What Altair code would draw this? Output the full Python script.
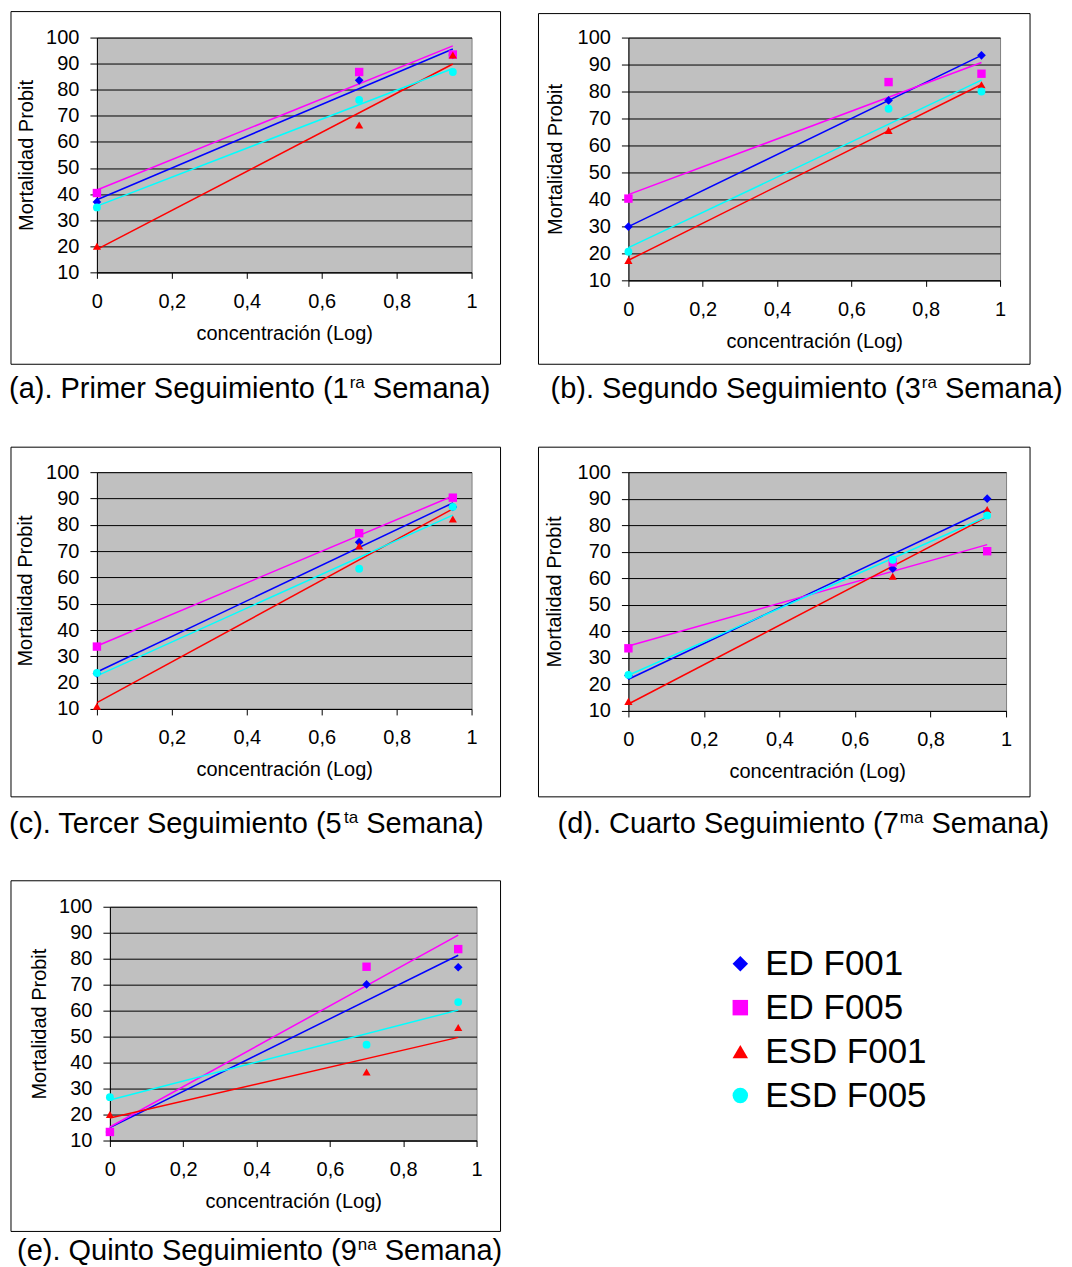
import altair as alt
import pandas as pd

FONT = "Liberation Sans"

series_names = ["ED F001", "ED F005", "ESD F001", "ESD F005"]
series_colors = ["#0000ff", "#ff00ff", "#ff0000", "#00ffff"]
series_shapes = ["diamond", "square", "triangle-up", "circle"]
series_sizes = [75, 62, 105, 62]

x_log = [0.0, 0.7, 0.95]
x_ticks = [0, 0.2, 0.4, 0.6, 0.8, 1]
y_ticks = [10, 20, 30, 40, 50, 60, 70, 80, 90, 100]

# (a) 1ra semana
a_ed_f001 = [37.0, 83.6, 93.3]
a_ed_f005 = [40.4, 86.8, 93.5]
a_esd_f001 = [20.0, 66.5, 93.3]
a_esd_f005 = [34.9, 76.1, 86.8]
# (b) 3ra semana
b_ed_f001 = [29.9, 76.7, 93.4]
b_ed_f005 = [40.3, 83.5, 86.6]
b_esd_f001 = [17.4, 65.6, 82.5]
b_esd_f005 = [20.6, 73.6, 80.0]
# (c) 5ta semana
c_ed_f001 = [23.5, 73.4, 86.8]
c_ed_f005 = [33.7, 76.8, 90.3]
c_esd_f001 = [11.0, 71.9, 82.2]
c_esd_f005 = [23.7, 63.3, 86.8]
# (d) 7ma semana
d_ed_f001 = [23.4, 63.6, 90.0]
d_ed_f005 = [33.6, 66.0, 70.2]
d_esd_f001 = [13.6, 60.8, 85.9]
d_esd_f005 = [23.6, 67.0, 83.7]
# (e) 9na semana
e_ed_f001 = [13.3, 70.1, 76.7]
e_ed_f005 = [13.3, 76.9, 83.7]
e_esd_f001 = [20.0, 36.4, 53.5]
e_esd_f005 = [26.7, 46.9, 63.3]

captions = [
    ("(a). Primer Seguimiento (1", "ra", "Semana)"),
    ("(b). Segundo Seguimiento (3", "ra", "Semana)"),
    ("(c). Tercer Seguimiento (5", "ta", "Semana)"),
    ("(d). Cuarto Seguimiento (7", "ma", "Semana)"),
    ("(e). Quinto Seguimiento (9", "na", "Semana)"),
]

# Arial-compatible advance widths (per 1000 em) for caption layout
AW = {' ': 278, '(': 333, ')': 333, '.': 278, 'a': 556, 'b': 556, 'c': 500,
      'd': 556, 'e': 556, 'g': 556, 'i': 222, 'm': 833, 'n': 556, 'o': 556,
      'r': 333, 't': 278, 'u': 556, 'P': 667, 'S': 667, 'T': 611, 'C': 722,
      'Q': 778}


def tw(s, fs):
    return sum(AW.get(ch, 556) for ch in s) / 1000.0 * fs


CAP_FS = 29
SUP_FS = 17

one = pd.DataFrame({"k": [0]})

color_enc = alt.Color("serie:N", scale=alt.Scale(domain=series_names, range=series_colors), legend=None)
shape_enc = alt.Shape("serie:N", scale=alt.Scale(domain=series_names, range=series_shapes), legend=None)
size_enc = alt.Size("serie:O", scale=alt.Scale(domain=series_names, range=series_sizes), legend=None)


def make_panel(vals, w, h, frame, cap, cap_x, cap_y, ytitle_x, kern=0.0):
    rows = []
    for name, ys in zip(series_names, vals):
        for xv, yv in zip(x_log, ys):
            rows.append({"serie": name, "x": xv, "y": yv})
    df = pd.DataFrame(rows)

    x_enc = alt.X(
        "x:Q",
        scale=alt.Scale(domain=[0, 1], nice=False, zero=False),
        axis=alt.Axis(
            values=x_ticks,
            labelExpr="replace(format(datum.value, '.1~f'), '.', ',')",
            title="concentración (Log)",
            grid=False, tickSize=6, labelPadding=13, labelFlush=False,
            labelOverlap=False,
            titleX=w / 2, titleY=67, titleAlign="center", titleBaseline="alphabetic",
        ),
    )
    y_enc = alt.Y(
        "y:Q",
        scale=alt.Scale(domain=[10, 100], nice=False, zero=False),
        axis=alt.Axis(
            values=y_ticks, grid=True, gridColor="#000000", gridOpacity=1, gridWidth=1,
            tickSize=7, labelPadding=11, labelOverlap=False,
            title="Mortalidad Probit",
            titleX=ytitle_x, titleY=h / 2, titleAngle=270,
            titleAlign="center", titleBaseline="middle",
        ),
    )

    lines = alt.Chart(df).transform_regression(
        "x", "y", groupby=["serie"]
    ).mark_line(strokeWidth=1.5).encode(x=x_enc, y=y_enc, color=color_enc)

    pts = alt.Chart(df).mark_point(filled=True, opacity=1).encode(
        x=x_enc, y=y_enc, color=color_enc, shape=shape_enc, size=size_enc
    )

    fx0, fx1, fy0, fy1 = frame
    box = alt.Chart(one).mark_rect(fillOpacity=0, stroke="#000000", strokeWidth=1).encode(
        x=alt.value(fx0), x2=alt.value(fx1), y=alt.value(fy0), y2=alt.value(fy1)
    )

    main1, sup, main2 = cap
    sx = cap_x + tw(main1, CAP_FS) + 1 + kern
    mx = sx + tw(sup, SUP_FS) + tw(" ", CAP_FS)
    t1 = alt.Chart(one).mark_text(align="left", baseline="alphabetic", fontSize=CAP_FS,
                                  font=FONT, color="#000000").encode(
        x=alt.value(cap_x), y=alt.value(cap_y), text=alt.value(main1))
    t2 = alt.Chart(one).mark_text(align="left", baseline="alphabetic", fontSize=SUP_FS,
                                  font=FONT, color="#000000").encode(
        x=alt.value(sx), y=alt.value(cap_y - 10), text=alt.value(sup))
    t3 = alt.Chart(one).mark_text(align="left", baseline="alphabetic", fontSize=CAP_FS,
                                  font=FONT, color="#000000").encode(
        x=alt.value(mx), y=alt.value(cap_y), text=alt.value(main2))

    return alt.layer(box, lines, pts, t1, t2, t3).properties(
        width=w, height=h,
        view=alt.ViewBackground(fill="#c0c0c0", stroke="#808080", strokeWidth=1),
    )


pa = make_panel([a_ed_f001, a_ed_f005, a_esd_f001, a_esd_f005], 375, 235,
                (-86, 404, -26, 327), captions[0], -88, 361, -70)
pb = make_panel([b_ed_f001, b_ed_f005, b_esd_f001, b_esd_f005], 372, 243,
                (-90, 402, -24, 327), captions[1], -78, 361, -73)
pc = make_panel([c_ed_f001, c_ed_f005, c_esd_f001, c_esd_f005], 375, 237,
                (-86, 404, -25, 325), captions[2], -88, 361, -71, kern=-2.5)
pd_ = make_panel([d_ed_f001, d_ed_f005, d_esd_f001, d_esd_f005], 378, 239,
                 (-90, 402, -25, 325), captions[3], -71, 361, -74)
pe = make_panel([e_ed_f001, e_ed_f005, e_esd_f001, e_esd_f005], 367, 234,
                (-99, 391, -26, 325), captions[4], -93, 354, -70)

spacer = alt.Chart(one).mark_point(opacity=0).encode(
    x=alt.value(0), y=alt.value(0)
).properties(width=1, height=1)

leg_df = pd.DataFrame({"serie": series_names})
leg_y = alt.Y("serie:N", scale=alt.Scale(domain=series_names, range=[57, 189], padding=0), axis=None)
leg_pts = alt.Chart(leg_df).mark_point(filled=True, opacity=1, size=240).encode(
    x=alt.value(252), y=leg_y, color=color_enc, shape=shape_enc
)
leg_txt = alt.Chart(leg_df).mark_text(align="left", baseline="middle", fontSize=35,
                                      font=FONT, color="#000000").encode(
    x=alt.value(277), y=leg_y, text="serie:N"
)
legend = alt.layer(leg_pts, leg_txt).properties(width=300, height=234)

row1 = alt.hconcat(pa, pb, spacing=157, bounds="flush")
row2 = alt.hconcat(pc, pd_, spacing=157, bounds="flush")
row3 = alt.hconcat(spacer, pe, legend, spacing=12, bounds="flush")

# nested concat groups count as zero height in flush layout, so the spacing
# includes the row height
chart = alt.vconcat(row1, row2, row3, spacing=435, bounds="flush").properties(
    padding={"left": 0, "top": 2, "right": 0, "bottom": 0},
    background="#ffffff",
).configure(font=FONT).configure_view(strokeWidth=0).configure_axis(
    labelFont=FONT, titleFont=FONT, labelFontSize=20, titleFontSize=20,
    titleFontWeight="normal", labelColor="#000000", titleColor="#000000",
    domainColor="#000000", tickColor="#000000", domainWidth=1, tickWidth=1,
)

chart.save("out.html", embed_options={"renderer": "svg", "actions": False})
